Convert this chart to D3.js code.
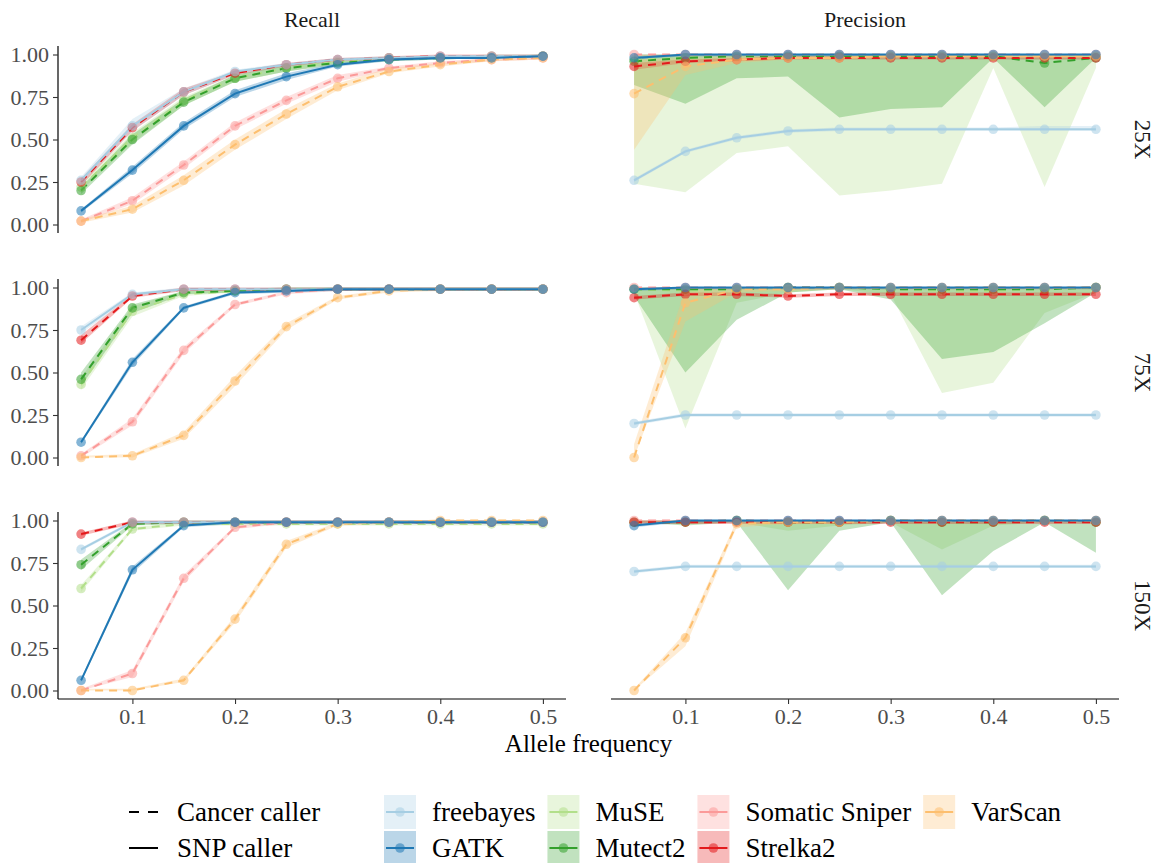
<!DOCTYPE html>
<html><head><meta charset="utf-8">
<script src="https://cdn.jsdelivr.net/npm/d3@7"></script>
<style>
body{margin:0;background:#fff}
svg text{font-family:"Liberation Serif","Times New Roman",serif !important}
</style>
</head><body>
<svg id="chart" width="1157" height="863" font-family="Liberation Serif"></svg>
<script>
// ---------------- DATA ----------------
const alleleFreq = [0.05,0.1,0.15,0.2,0.25,0.3,0.35,0.4,0.45,0.5];
const callers = ["freebayes","GATK","MuSE","Mutect2","Somatic Sniper","Strelka2","VarScan"];
const callerKind = ["SNP caller","SNP caller","Cancer caller","Cancer caller","Cancer caller","Cancer caller","Cancer caller"];
const callerColors = ["#A6CEE3","#1F78B4","#B2DF8A","#33A02C","#FB9A99","#E31A1C","#FDBF6F"];
const kindLabels = ["Cancer caller","SNP caller"];
const depths = ["25X","75X","150X"];
const metrics = ["Recall","Precision"];
const yTicks = [0,0.25,0.5,0.75,1];
const yTickLabels = ["0.00","0.25","0.50","0.75","1.00"];
const xTicks = [0.1,0.2,0.3,0.4,0.5];
const xTickLabels = ["0.1","0.2","0.3","0.4","0.5"];

// rows follow the callers order
const recall25 = [
 [0.26,0.58,0.78,0.90,0.94,0.97,0.98,0.99,0.99,0.99],
 [0.08,0.32,0.58,0.77,0.87,0.94,0.97,0.98,0.98,0.99],
 [0.22,0.51,0.73,0.86,0.92,0.96,0.98,0.98,0.99,0.99],
 [0.20,0.50,0.72,0.86,0.92,0.95,0.97,0.98,0.98,0.99],
 [0.02,0.14,0.35,0.58,0.73,0.86,0.92,0.95,0.97,0.98],
 [0.25,0.57,0.78,0.89,0.94,0.97,0.98,0.99,0.99,0.99],
 [0.02,0.09,0.26,0.47,0.65,0.81,0.90,0.94,0.97,0.98]];
const recall25Lo = [
 [0.24,0.55,0.76,0.88,0.93,0.96,0.97,0.98,0.98,0.98],
 [0.07,0.30,0.56,0.75,0.85,0.93,0.96,0.97,0.98,0.98],
 [0.20,0.48,0.70,0.84,0.90,0.95,0.97,0.97,0.98,0.98],
 [0.18,0.47,0.70,0.84,0.90,0.94,0.96,0.97,0.98,0.98],
 [0.01,0.12,0.33,0.56,0.71,0.84,0.91,0.94,0.96,0.97],
 [0.23,0.55,0.76,0.88,0.93,0.96,0.97,0.98,0.98,0.98],
 [0.01,0.07,0.23,0.44,0.62,0.79,0.89,0.93,0.96,0.97]];
const recall25Hi = [
 [0.28,0.62,0.80,0.91,0.95,0.98,0.99,0.99,1.00,1.00],
 [0.09,0.34,0.60,0.79,0.89,0.95,0.98,0.99,0.99,1.00],
 [0.24,0.54,0.75,0.88,0.94,0.97,0.99,0.99,1.00,1.00],
 [0.22,0.53,0.74,0.88,0.94,0.96,0.98,0.99,0.99,1.00],
 [0.03,0.16,0.37,0.60,0.75,0.88,0.93,0.96,0.98,0.99],
 [0.27,0.59,0.80,0.90,0.95,0.98,0.99,1.00,1.00,1.00],
 [0.03,0.11,0.29,0.50,0.68,0.83,0.92,0.95,0.98,0.99]];

const recall75 = [
 [0.75,0.96,0.99,0.99,0.99,0.99,0.99,0.99,0.99,0.99],
 [0.09,0.56,0.88,0.97,0.98,0.99,0.99,0.99,0.99,0.99],
 [0.43,0.86,0.96,0.98,0.99,0.99,0.99,0.99,0.99,0.99],
 [0.46,0.88,0.97,0.98,0.99,0.99,0.99,0.99,0.99,0.99],
 [0.01,0.21,0.63,0.90,0.97,0.99,0.99,0.99,0.99,0.99],
 [0.69,0.95,0.99,0.99,0.99,0.99,0.99,0.99,0.99,0.99],
 [0.00,0.01,0.13,0.45,0.77,0.94,0.98,0.99,0.99,0.99]];
const recall75Lo = [
 [0.73,0.95,0.98,0.98,0.98,0.98,0.98,0.98,0.98,0.98],
 [0.08,0.54,0.87,0.96,0.97,0.98,0.98,0.98,0.98,0.98],
 [0.40,0.83,0.95,0.97,0.98,0.98,0.98,0.98,0.98,0.98],
 [0.42,0.85,0.96,0.97,0.98,0.98,0.98,0.98,0.98,0.98],
 [0.00,0.19,0.61,0.89,0.96,0.98,0.98,0.98,0.98,0.98],
 [0.67,0.94,0.98,0.98,0.98,0.98,0.98,0.98,0.98,0.98],
 [0.00,0.00,0.11,0.42,0.75,0.93,0.97,0.98,0.98,0.98]];
const recall75Hi = [
 [0.77,0.97,1.00,1.00,1.00,1.00,1.00,1.00,1.00,1.00],
 [0.10,0.58,0.89,0.98,0.99,1.00,1.00,1.00,1.00,1.00],
 [0.47,0.89,0.98,0.99,1.00,1.00,1.00,1.00,1.00,1.00],
 [0.50,0.90,0.98,0.99,1.00,1.00,1.00,1.00,1.00,1.00],
 [0.02,0.23,0.65,0.91,0.98,1.00,1.00,1.00,1.00,1.00],
 [0.72,0.96,1.00,1.00,1.00,1.00,1.00,1.00,1.00,1.00],
 [0.01,0.02,0.15,0.48,0.79,0.95,0.99,1.00,1.00,1.00]];

const recall150 = [
 [0.83,0.99,0.99,0.99,0.99,0.99,0.99,0.99,0.99,0.99],
 [0.06,0.71,0.97,0.99,0.99,0.99,0.99,0.99,0.99,0.99],
 [0.60,0.95,0.98,0.98,0.98,0.98,0.98,0.98,0.98,0.98],
 [0.74,0.98,0.99,0.99,0.99,0.99,0.99,0.99,0.99,0.99],
 [0.00,0.10,0.66,0.96,0.99,0.99,0.99,0.99,0.99,0.99],
 [0.92,0.99,0.99,0.99,0.99,0.99,0.99,0.99,0.99,0.99],
 [0.00,0.00,0.06,0.42,0.86,0.98,0.99,1.00,1.00,1.00]];
const recall150Lo = [
 [0.82,0.98,0.98,0.98,0.98,0.98,0.98,0.98,0.98,0.98],
 [0.05,0.69,0.96,0.98,0.98,0.98,0.98,0.98,0.98,0.98],
 [0.58,0.94,0.97,0.97,0.97,0.97,0.97,0.97,0.97,0.97],
 [0.71,0.97,0.98,0.98,0.98,0.98,0.98,0.98,0.98,0.98],
 [0.00,0.08,0.64,0.95,0.98,0.98,0.98,0.98,0.98,0.98],
 [0.91,0.98,0.98,0.98,0.98,0.98,0.98,0.98,0.98,0.98],
 [0.00,0.00,0.05,0.40,0.84,0.97,0.98,0.99,0.99,0.99]];
const recall150Hi = [
 [0.84,1.00,1.00,1.00,1.00,1.00,1.00,1.00,1.00,1.00],
 [0.07,0.73,0.98,1.00,1.00,1.00,1.00,1.00,1.00,1.00],
 [0.62,0.96,0.99,0.99,0.99,0.99,0.99,0.99,0.99,0.99],
 [0.77,0.99,1.00,1.00,1.00,1.00,1.00,1.00,1.00,1.00],
 [0.01,0.12,0.68,0.97,1.00,1.00,1.00,1.00,1.00,1.00],
 [0.93,1.00,1.00,1.00,1.00,1.00,1.00,1.00,1.00,1.00],
 [0.01,0.01,0.07,0.44,0.88,0.99,1.00,1.00,1.00,1.00]];

const precision25 = [
 [0.26,0.43,0.51,0.55,0.56,0.56,0.56,0.56,0.56,0.56],
 [0.98,1.00,1.00,1.00,1.00,1.00,1.00,1.00,1.00,1.00],
 [0.97,0.98,0.99,0.99,0.99,0.99,0.99,0.99,0.98,0.99],
 [0.96,0.98,0.99,0.99,0.99,0.99,0.99,0.99,0.95,0.98],
 [1.00,1.00,1.00,1.00,1.00,1.00,1.00,1.00,1.00,1.00],
 [0.93,0.96,0.97,0.98,0.98,0.98,0.98,0.98,0.98,0.98],
 [0.77,0.93,0.97,0.98,0.98,0.99,0.99,0.99,0.99,0.99]];
const precision25Lo = [
 [0.25,0.42,0.50,0.54,0.55,0.55,0.55,0.55,0.55,0.55],
 [0.97,0.99,0.99,0.99,0.99,0.99,0.99,0.99,0.99,0.99],
 [0.24,0.19,0.42,0.46,0.17,0.20,0.24,0.92,0.22,0.92],
 [0.82,0.71,0.86,0.87,0.63,0.68,0.69,0.98,0.69,0.98],
 [0.99,0.99,0.99,0.99,0.99,0.99,0.99,0.99,0.99,0.99],
 [0.91,0.95,0.96,0.97,0.97,0.97,0.97,0.97,0.97,0.97],
 [0.44,0.88,0.95,0.97,0.97,0.98,0.98,0.98,0.98,0.98]];
const precision25Hi = [
 [0.27,0.44,0.52,0.56,0.57,0.57,0.57,0.57,0.58,0.58],
 [0.99,1.00,1.00,1.00,1.00,1.00,1.00,1.00,1.00,1.00],
 [1.00,1.00,1.00,1.00,1.00,1.00,1.00,1.00,1.00,1.00],
 [1.00,1.00,1.00,1.00,1.00,1.00,1.00,1.00,1.00,1.00],
 [1.00,1.00,1.00,1.00,1.00,1.00,1.00,1.00,1.00,1.00],
 [0.95,0.97,0.98,0.99,0.99,0.99,0.99,0.99,0.99,0.99],
 [0.97,0.98,0.99,0.99,0.99,1.00,1.00,1.00,1.00,1.00]];

const precision75 = [
 [0.20,0.25,0.25,0.25,0.25,0.25,0.25,0.25,0.25,0.25],
 [0.99,1.00,1.00,1.00,1.00,1.00,1.00,1.00,1.00,1.00],
 [0.99,0.98,0.99,1.00,1.00,0.99,0.98,0.98,0.99,1.00],
 [0.99,0.99,0.99,1.00,1.00,0.99,0.99,0.99,0.99,1.00],
 [1.00,1.00,1.00,1.00,1.00,1.00,1.00,1.00,1.00,1.00],
 [0.94,0.96,0.96,0.95,0.96,0.96,0.96,0.96,0.96,0.96],
 [0.00,0.91,0.99,0.99,1.00,1.00,1.00,1.00,1.00,1.00]];
const precision75Lo = [
 [0.19,0.24,0.24,0.24,0.24,0.24,0.24,0.24,0.24,0.24],
 [0.98,0.99,0.99,0.99,0.99,0.99,0.99,0.99,0.99,0.99],
 [0.97,0.17,0.91,0.97,0.99,0.96,0.38,0.44,0.85,0.97],
 [0.95,0.50,0.81,0.97,0.99,0.93,0.58,0.62,0.79,0.97],
 [0.99,0.99,0.99,0.99,0.99,0.99,0.99,0.99,0.99,0.99],
 [0.93,0.95,0.95,0.94,0.95,0.95,0.95,0.95,0.95,0.95],
 [0.00,0.80,0.97,0.98,0.99,0.99,0.99,0.99,0.99,0.99]];
const precision75Hi = [
 [0.21,0.26,0.26,0.26,0.26,0.26,0.26,0.26,0.26,0.26],
 [1.00,1.00,1.00,1.00,1.00,1.00,1.00,1.00,1.00,1.00],
 [1.00,1.00,1.00,1.00,1.00,1.00,1.00,1.00,1.00,1.00],
 [1.00,1.00,1.00,1.00,1.00,1.00,1.00,1.00,1.00,1.00],
 [1.00,1.00,1.00,1.00,1.00,1.00,1.00,1.00,1.00,1.00],
 [0.95,0.97,0.97,0.96,0.97,0.97,0.97,0.97,0.97,0.97],
 [0.08,0.99,1.00,1.00,1.00,1.00,1.00,1.00,1.00,1.00]];

const precision150 = [
 [0.70,0.73,0.73,0.73,0.73,0.73,0.73,0.73,0.73,0.73],
 [0.97,1.00,1.00,1.00,1.00,1.00,1.00,1.00,1.00,1.00],
 [0.99,0.99,1.00,0.99,0.99,1.00,0.99,0.99,1.00,0.99],
 [0.99,0.99,1.00,0.99,0.99,1.00,0.99,0.99,1.00,0.99],
 [1.00,1.00,1.00,1.00,1.00,1.00,1.00,1.00,1.00,1.00],
 [0.99,0.99,0.99,0.99,0.99,0.99,0.99,0.99,0.99,0.99],
 [0.00,0.31,0.98,0.99,0.99,1.00,1.00,1.00,1.00,1.00]];
const precision150Lo = [
 [0.69,0.72,0.72,0.72,0.72,0.72,0.72,0.72,0.72,0.72],
 [0.96,0.99,0.99,0.99,0.99,0.99,0.99,0.99,0.99,0.99],
 [0.99,0.98,0.99,0.94,0.97,0.99,0.83,0.97,0.99,0.99],
 [0.99,0.97,0.99,0.59,0.94,0.99,0.56,0.82,0.99,0.81],
 [0.99,0.99,0.99,0.99,0.99,0.99,0.99,0.99,0.99,0.99],
 [0.98,0.98,0.98,0.98,0.98,0.98,0.98,0.98,0.98,0.98],
 [0.00,0.26,0.96,0.98,0.98,0.99,0.99,0.99,0.99,0.99]];
const precision150Hi = [
 [0.71,0.74,0.74,0.74,0.74,0.74,0.74,0.74,0.74,0.74],
 [0.98,1.00,1.00,1.00,1.00,1.00,1.00,1.00,1.00,1.00],
 [1.00,1.00,1.00,1.00,1.00,1.00,1.00,1.00,1.00,1.00],
 [1.00,1.00,1.00,1.00,1.00,1.00,1.00,1.00,1.00,1.00],
 [1.00,1.00,1.00,1.00,1.00,1.00,1.00,1.00,1.00,1.00],
 [1.00,1.00,1.00,1.00,1.00,1.00,1.00,1.00,1.00,1.00],
 [0.01,0.34,1.00,1.00,1.00,1.00,1.00,1.00,1.00,1.00]];

// ---------------- LAYOUT ----------------
const panels = [
  [[recall25,recall25Lo,recall25Hi],[precision25,precision25Lo,precision25Hi]],
  [[recall75,recall75Lo,recall75Hi],[precision75,precision75Lo,precision75Hi]],
  [[recall150,recall150Lo,recall150Hi],[precision150,precision150Lo,precision150Hi]]
];
const colLeft = [58, 611], panelW = 508;
const rowTop = [46, 279, 512], panelH = 187;
const tickFont = 22, stripFont = 22, rowStripFont = 23, titleFont = 25, legendFont = 27;
const tickCol = "#4D4D4D";
const ptAlpha = 0.55, ribAlpha = 0.3, lineW = 2, ptR = 4.8;
const dash = "8,6";
const FONT = '"Liberation Serif","Times New Roman",serif';

const svg = d3.select("#chart");

const xScales = colLeft.map(l => d3.scaleLinear().domain([0.0275,0.5225]).range([l, l+panelW]));
const yScales = rowTop.map(t => d3.scaleLinear().domain([-0.05,1.05]).range([t+panelH, t]));

const isDashed = i => callerKind[i] === "Cancer caller";
// drawing order: cancer callers first, then SNP callers on top
const drawOrder = d3.range(callers.length).sort((a,b)=> d3.ascending(callerKind[a], callerKind[b]) || a-b);

panels.forEach((row, r) => {
  row.forEach((trip, c) => {
    const [mean, lo, hi] = trip;
    const x = xScales[c], y = yScales[r];
    const g = svg.append("g");
    const area = d3.area().x((d,k)=>x(alleleFreq[k])).y0(d=>y(d[0])).y1(d=>y(d[1]));
    const line = d3.line().x((d,k)=>x(alleleFreq[k])).y(d=>y(d));
    drawOrder.forEach(i=>{
      const pts = lo[i].map((v,k)=>[v, hi[i][k]]);
      g.append("path").attr("d", area(pts)).attr("fill", callerColors[i]).attr("fill-opacity", ribAlpha);
    });
    drawOrder.forEach(i=>{
      g.append("path").attr("d", line(mean[i])).attr("fill","none")
        .attr("stroke", callerColors[i]).attr("stroke-width", lineW)
        .attr("stroke-dasharray", isDashed(i) ? dash : null);
    });
    drawOrder.forEach(i=>{
      g.selectAll(null).data(mean[i]).enter().append("circle")
        .attr("cx",(d,k)=>x(alleleFreq[k])).attr("cy",d=>y(d)).attr("r",ptR)
        .attr("fill", callerColors[i]).attr("fill-opacity", ptAlpha);
    });
  });
  // y axis on left column
  const ya = svg.append("g").attr("transform",`translate(${colLeft[0]},0)`)
    .call(d3.axisLeft(yScales[r]).tickValues(yTicks).tickFormat((d,k)=>yTickLabels[k]).tickSize(5).tickPadding(4));
  ya.attr("font-family",FONT).attr("font-size",tickFont);
  ya.select(".domain").attr("stroke","#000").attr("stroke-width",1.2).attr("d",`M0,${rowTop[r]}V${rowTop[r]+panelH}`);
  ya.selectAll(".tick line").attr("stroke","#333").attr("stroke-width",1.1);
  ya.selectAll(".tick text").attr("fill",tickCol);
  // right strip
  svg.append("text").attr("transform",`translate(1142,${rowTop[r]+panelH/2}) rotate(90)`)
    .attr("text-anchor","middle").attr("dominant-baseline","central")
    .attr("font-family",FONT).attr("font-size",rowStripFont).attr("fill","#1a1a1a").text(depths[r]);
});

// x axes on bottom row
colLeft.forEach((l,c)=>{
  const bottom = rowTop[2]+panelH;
  const xa = svg.append("g").attr("transform",`translate(0,${bottom})`)
    .call(d3.axisBottom(xScales[c]).tickValues(xTicks).tickFormat((d,k)=>xTickLabels[k]).tickSize(5).tickPadding(4));
  xa.attr("font-family",FONT).attr("font-size",tickFont);
  xa.select(".domain").attr("stroke","#000").attr("stroke-width",1.2).attr("d",`M${l},0H${l+panelW}`);
  xa.selectAll(".tick line").attr("stroke","#333").attr("stroke-width",1.1);
  xa.selectAll(".tick text").attr("fill",tickCol);
  // top strip
  svg.append("text").attr("x", l+panelW/2).attr("y", 27).attr("text-anchor","middle")
    .attr("font-family",FONT).attr("font-size",stripFont).attr("fill","#1a1a1a").text(metrics[c]);
});

svg.append("text").attr("x",(colLeft[0]+colLeft[1]+panelW)/2).attr("y",752).attr("text-anchor","middle")
  .attr("font-family",FONT).attr("font-size",titleFont).attr("fill","#000").text("Allele frequency");

// ---------------- LEGEND ----------------
const rowY = [812, 848], keyW = 32, keyH = 34;
// linetype legend
kindLabels.forEach((lab,k)=>{
  svg.append("line").attr("x1",129).attr("x2",158).attr("y1",rowY[k]).attr("y2",rowY[k])
    .attr("stroke","#000").attr("stroke-width",2).attr("stroke-dasharray", lab==="Cancer caller" ? "10,9" : null);
  svg.append("text").attr("x",177).attr("y",rowY[k]).attr("dy","0.33em")
    .attr("font-family",FONT).attr("font-size",legendFont).attr("fill","#000").text(lab);
});
// colour legend (column-major, 2 rows)
let colX = 384;
const nCols = Math.ceil(callers.length/2);
for (let cc=0; cc<nCols; cc++){
  let maxW = 0;
  for (let rr=0; rr<2; rr++){
    const i = cc*2+rr;
    if (i>=callers.length) break;
    const cy = rowY[rr];
    svg.append("rect").attr("x",colX).attr("y",cy-keyH/2).attr("width",keyW).attr("height",keyH)
      .attr("fill",callerColors[i]).attr("fill-opacity",ribAlpha);
    svg.append("line").attr("x1",colX+2).attr("x2",colX+keyW-2).attr("y1",cy).attr("y2",cy)
      .attr("stroke",callerColors[i]).attr("stroke-width",lineW);
    svg.append("circle").attr("cx",colX+keyW/2).attr("cy",cy).attr("r",ptR)
      .attr("fill",callerColors[i]).attr("fill-opacity",ptAlpha);
    const t = svg.append("text").attr("x",colX+keyW+16).attr("y",cy).attr("dy","0.33em")
      .attr("font-family",FONT).attr("font-size",legendFont).attr("fill","#000").text(callers[i]);
    maxW = Math.max(maxW, t.node().getComputedTextLength());
  }
  colX += keyW + 16 + maxW + 12;
}
</script>
</body></html>
